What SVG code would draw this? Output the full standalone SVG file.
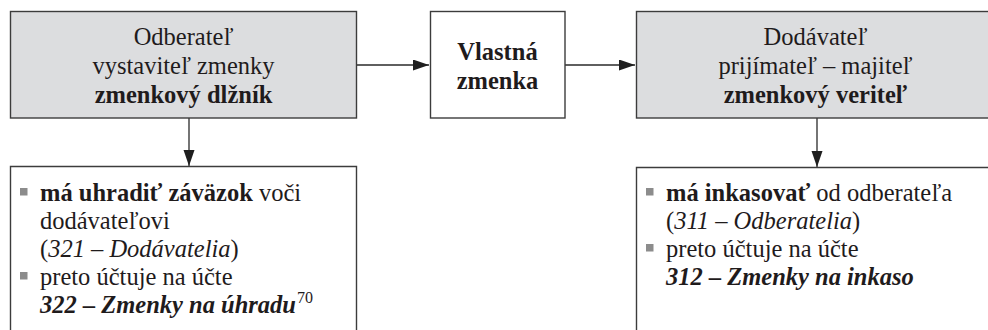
<svg xmlns="http://www.w3.org/2000/svg" width="988" height="330" viewBox="0 0 988 330">
  <defs>
    <style>
      .box { stroke: #3c3c3c; stroke-width: 1.4; }
      .shaded { fill: #dcdddf; }
      .plain { fill: #ffffff; }
      .open { fill: none; stroke: #3c3c3c; stroke-width: 1.4; }
      .conn { fill: none; stroke: #2a2a2a; stroke-width: 1.3; }
      text { font-family: 'Liberation Serif', 'Times New Roman', serif; font-size: 24.5px; fill: #1f1b1c; }
      .c { text-anchor: middle; }
      .b { font-weight: bold; }
      .i { font-style: italic; }
      .bi { font-weight: bold; font-style: italic; }
      .sup { font-size: 16px; font-weight: normal; font-style: normal; }
      .bullet { fill: #8c8c8c; }
    </style>
    <marker id="arrow" markerUnits="userSpaceOnUse" markerWidth="17" markerHeight="12" refX="16" refY="5.5" orient="auto">
      <path d="M0,0 L16,5.5 L0,11 Z" fill="#1e1e1e"/>
    </marker>
  </defs>

  <rect width="988" height="330" fill="#ffffff"/>

  <!-- connectors -->
  <g id="connectors">
    <line class="conn" x1="357" y1="65" x2="429" y2="65" marker-end="url(#arrow)"/>
    <line class="conn" x1="565" y1="65" x2="635" y2="65" marker-end="url(#arrow)"/>
    <line class="conn" x1="189" y1="118" x2="189" y2="166" marker-end="url(#arrow)"/>
    <line class="conn" x1="817" y1="118" x2="817" y2="167" marker-end="url(#arrow)"/>
  </g>

  <!-- drawer of the note -->
  <g id="odberatel">
    <rect class="box shaded" x="10.5" y="11.5" width="346" height="106.5"/>
    <text class="c" x="183.5" y="45">Odberateľ</text>
    <text class="c" x="183.5" y="74">vystaviteľ zmenky</text>
    <text class="c b" x="183.5" y="103">zmenkový dlžník</text>
  </g>

  <!-- the promissory note -->
  <g id="zmenka">
    <rect class="box plain" x="430.5" y="11.5" width="134.5" height="106.5"/>
    <text class="c b" x="497.5" y="60">Vlastná</text>
    <text class="c b" x="497.5" y="89">zmenka</text>
  </g>

  <!-- payee / holder -->
  <g id="dodavatel">
    <rect class="box shaded" x="636.5" y="11.5" width="360" height="106.5"/>
    <text class="c" x="815.5" y="45">Dodávateľ</text>
    <text class="c" x="815.5" y="74">prijímateľ – majiteľ</text>
    <text class="c b" x="815.5" y="103">zmenkový veriteľ</text>
  </g>

  <!-- debtor's accounting -->
  <g id="odberatel-uctovanie">
    <path class="open" d="M10.5,332 V166.5 H356.5 V332"/>
    <rect class="bullet" x="20" y="188" width="7.5" height="7.5"/>
    <text x="40" y="201"><tspan class="b">má uhradiť záväzok</tspan> voči</text>
    <text x="40" y="229">dodávateľovi</text>
    <text x="40" y="257">(<tspan class="i">321 – Dodávatelia</tspan>)</text>
    <rect class="bullet" x="20" y="272" width="7.5" height="7.5"/>
    <text x="40" y="285">preto účtuje na účte</text>
    <text x="40" y="313"><tspan class="bi">322 – Zmenky na úhradu</tspan><tspan class="sup" dx="1" dy="-10">70</tspan></text>
  </g>

  <!-- creditor's accounting -->
  <g id="dodavatel-uctovanie">
    <path class="open" d="M636.5,332 V167.5 H996"/>
    <rect class="bullet" x="646" y="188" width="7.5" height="7.5"/>
    <text x="666" y="201"><tspan class="b">má inkasovať</tspan> od odberateľa</text>
    <text x="666" y="229">(<tspan class="i">311 – Odberatelia</tspan>)</text>
    <rect class="bullet" x="646" y="244" width="7.5" height="7.5"/>
    <text x="666" y="257">preto účtuje na účte</text>
    <text x="666" y="285" class="bi">312 – Zmenky na inkaso</text>
  </g>
</svg>
